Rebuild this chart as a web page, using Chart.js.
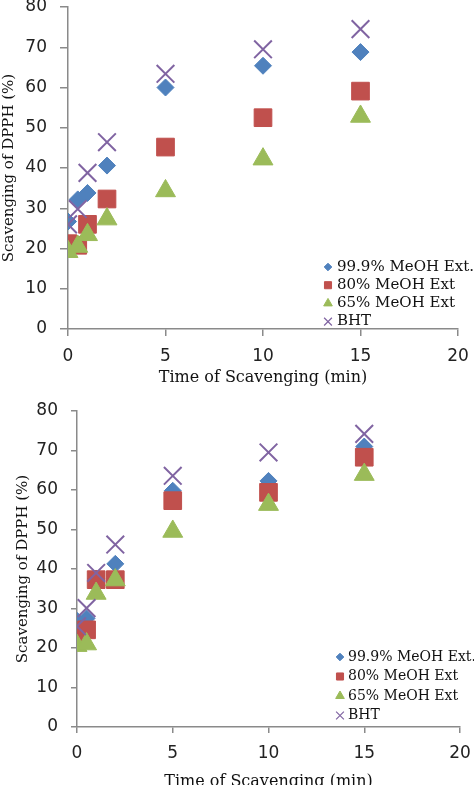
<!DOCTYPE html>
<html>
<head>
<meta charset="utf-8">
<script src="https://cdn.jsdelivr.net/npm/chart.js@4.4.0/dist/chart.umd.min.js"></script>
<style>
  html, body { margin: 0; padding: 0; background: #fff; overflow: hidden; }
  canvas { display: block; }
</style>
</head>
<body>
<canvas id="chart-top" width="474" height="390"></canvas>
<canvas id="chart-bottom" width="474" height="401"></canvas>
<script>
// Sample data
const times = [0, 0.5, 1, 2, 5, 10, 15];
const seriesNames = ['99.9% MeOH Ext.', '80% MeOH Ext', '65% MeOH Ext', 'BHT'];
const xTicks = [0, 5, 10, 15, 20];
const yTicks = [0, 10, 20, 30, 40, 50, 60, 70, 80];

// upper panel
const top999 = [26.7, 32.2, 33.8, 40.6, 60.0, 65.4, 68.8];
const top80 = [21.2, 20.8, 26.0, 32.3, 45.2, 52.5, 59.1];
const top65 = [19.2, 20.5, 23.4, 27.3, 34.3, 42.2, 52.8];
const topBHT = [26.0, 29.8, 38.8, 46.4, 63.4, 69.5, 74.5];

// lower panel
const bot999 = [26.9, 27.5, 37.6, 41.3, 59.8, 62.3, 71.0];
const bot80 = [22.5, 24.6, 37.3, 37.3, 57.3, 59.4, 68.3];
const bot65 = [20.6, 21.0, 33.8, 37.2, 49.5, 56.3, 63.9];
const botBHT = [25.5, 30.1, 39.0, 46.2, 63.6, 69.5, 74.2];

const colors = ['#4F81BD', '#C0504D', '#9BBB59', '#8064A2'];
const styles = ['rectRot', 'rect', 'triangle', 'crossRot'];
const radii = [8.5, 12.5, 11.5, 12.5];
const legendRadii = [3.8, 5, 5, 5.5];
const axisColor = '#8a8a8a';

const toPoints = vals => vals.map((v, i) => ({ x: times[i], y: v }));

// legend drawn inside the plot, bottom right
const insideLegend = {
    id: 'insideLegend',
    afterDraw(chart, args, opts) {
        const ctx = chart.ctx;
        ctx.save();
        ctx.font = opts.fontSize + 'px "DejaVu Serif"';
        ctx.textBaseline = 'middle';
        ctx.textAlign = 'left';
        chart.data.datasets.forEach((ds, i) => {
            const y = opts.y0 + i * opts.dy;
            ctx.fillStyle = colors[i];
            ctx.strokeStyle = colors[i];
            ctx.lineWidth = i === 3 ? 1.2 : 1;
            Chart.helpers.drawPoint(ctx, {
                pointStyle: styles[i], rotation: 0, radius: legendRadii[i],
                borderWidth: i === 3 ? 1.2 : 1
            }, opts.markerX, y);
            ctx.fillStyle = '#111';
            ctx.fillText(ds.label, opts.textX, y);
        });
        ctx.restore();
    }
};

function makeChart(id, values, cfg) {
    const ctx = document.getElementById(id).getContext('2d');
    return new Chart(ctx, {
        type: 'scatter',
        data: {
            datasets: values.map((vals, i) => ({
                label: seriesNames[i],
                data: toPoints(vals),
                order: 4 - i,
                pointStyle: styles[i],
                pointRadius: radii[i],
                pointHoverRadius: radii[i],
                backgroundColor: colors[i],
                borderColor: colors[i],
                borderWidth: i === 3 ? 2 : 1
            }))
        },
        options: {
            responsive: false,
            animation: false,
            layout: { padding: cfg.padding, autoPadding: false },
            plugins: {
                legend: { display: false },
                tooltip: { enabled: false },
                insideLegend: cfg.legend
            },
            scales: {
                x: {
                    type: 'linear',
                    min: 0,
                    max: 20,
                    afterBuildTicks: s => { s.ticks = xTicks.map(v => ({ value: v })); },
                    afterFit: s => { s.height = cfg.xHeight; s.paddingLeft = 0; s.paddingRight = 0; },
                    border: { color: axisColor, width: 1.5 },
                    grid: { drawOnChartArea: false, color: axisColor, lineWidth: 1.5, tickLength: cfg.xTick },
                    ticks: { color: '#222', padding: cfg.xPad, font: { family: 'DejaVu Sans', size: 17 } },
                    title: {
                        display: true,
                        text: 'Time of Scavenging (min)',
                        color: '#111',
                        padding: { top: 0, bottom: cfg.xTitlePad },
                        font: { family: 'DejaVu Serif', size: 16 }
                    }
                },
                y: {
                    min: 0,
                    max: 80,
                    afterBuildTicks: s => { s.ticks = yTicks.map(v => ({ value: v })); },
                    afterFit: s => { s.width = cfg.yWidth; s.paddingTop = 0; s.paddingBottom = 0; },
                    border: { color: axisColor, width: 1.5 },
                    grid: { drawOnChartArea: false, color: axisColor, lineWidth: 1.5, tickLength: cfg.yTick },
                    ticks: { color: '#222', padding: 13, font: { family: 'DejaVu Sans', size: 17 } },
                    title: {
                        display: true,
                        text: 'Scavenging of DPPH (%)',
                        color: '#111',
                        padding: { top: cfg.yTitlePad, bottom: 0 },
                        font: { family: 'DejaVu Serif', size: 15 }
                    }
                }
            }
        },
        plugins: [insideLegend]
    });
}

document.addEventListener('DOMContentLoaded', () => {
    // Create upper chart
    makeChart('chart-top', [top999, top80, top65, topBHT], {
        padding: { left: 0, top: 7, right: 16, bottom: 0 },
        yWidth: 68, xHeight: 61, xTick: 7, yTick: 8, xPad: 10, xTitlePad: 3, yTitlePad: 0,
        legend: { markerX: 328, textX: 337, y0: 267, dy: 18.2, fontSize: 15 }
    });

    // Create lower chart
    makeChart('chart-bottom', [bot999, bot80, bot65, botBHT], {
        padding: { left: 0, top: 21, right: 14, bottom: 0 },
        yWidth: 77, xHeight: 64, xTick: 6, yTick: 6, xPad: 10, xTitlePad: 0, yTitlePad: 14,
        legend: { markerX: 340, textX: 348, y0: 267, dy: 19.5, fontSize: 14 }
    });
});
</script>
</body>
</html>
